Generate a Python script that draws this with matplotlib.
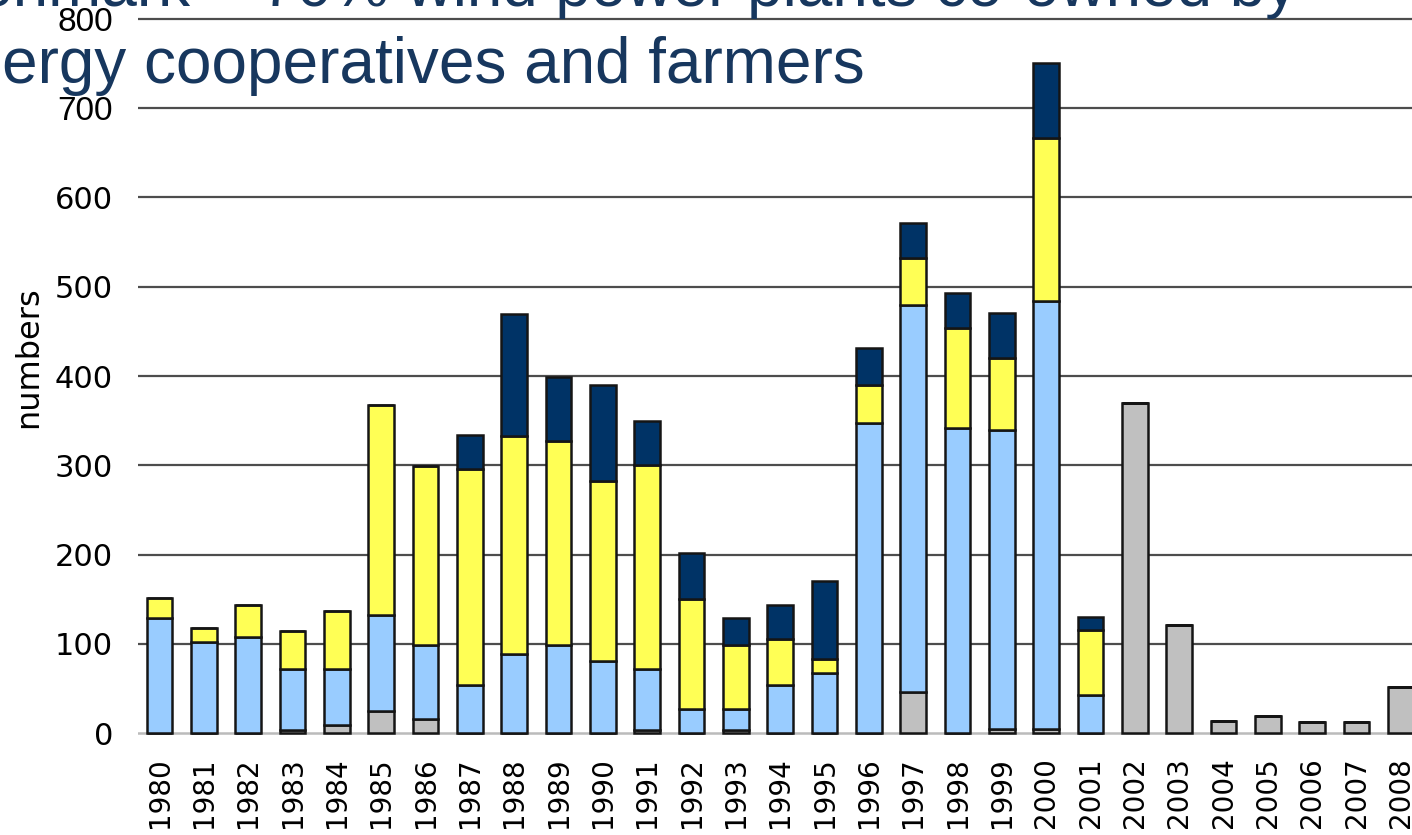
import matplotlib.pyplot as plt
import numpy as np

# wind turbines installed per year in Denmark, split by owner type
years = [str(y) for y in range(1980, 2009)]
gray = [0, 0, 0, 3, 9, 25, 16, 0, 0, 0, 0, 3, 0, 3, 0, 0, 0, 46, 0, 5, 5, 0,
        370, 121, 14, 19, 12, 12, 52]
blue = [129, 102, 108, 69, 63, 107, 83, 54, 89, 99, 81, 69, 27, 24, 54, 67,
        347, 433, 342, 334, 479, 43, 0, 0, 0, 0, 0, 0, 0]
yellow = [22, 16, 35, 42, 65, 236, 200, 242, 244, 228, 201, 228, 123, 72, 51,
          16, 43, 53, 112, 81, 183, 72, 0, 0, 0, 0, 0, 0, 0]
navy = [0, 0, 0, 0, 0, 0, 0, 38, 136, 72, 108, 50, 52, 30, 38, 87, 41, 39, 39,
        51, 84, 15, 0, 0, 0, 0, 0, 0, 0]

title_1 = "Denmark \u2013 70% wind power plants co-owned by"
title_2 = "energy cooperatives and farmers"

fig = plt.figure(figsize=(14.12, 8.35), dpi=100)
ax = fig.add_axes([138 / 1412, 0.12, 1 - 138 / 1412, 0.8594])

x = np.arange(len(years))
w = 0.58
edge = dict(edgecolor="#151515", linewidth=1.8, zorder=3)

bottom = np.zeros(len(years))
for vals, col in [(gray, "#c0c0c0"), (blue, "#99ccff"),
                  (yellow, "#ffff55"), (navy, "#003366")]:
    vals = np.array(vals)
    ax.bar(x, vals, w, bottom=bottom, color=col, **edge)
    bottom = bottom + vals

ax.set_xlim(-0.485, 28.25)
ax.set_ylim(-2, 802)
ax.set_yticks(range(0, 801, 100))
for v in range(100, 801, 100):
    ax.axhline(v, color="#4d4d4d", linewidth=1.6, zorder=1)
ax.axhline(0, color="#bbbbbb", linewidth=1.8, zorder=2)

for s in ax.spines.values():
    s.set_visible(False)

ax.set_xticks(x)
ax.set_xticklabels(years, rotation=90, fontsize=20)
ax.tick_params(axis="x", length=0, pad=16)
ax.tick_params(axis="y", length=0, pad=18, labelsize=22)
for lab in ax.get_yticklabels()[-2:]:
    lab.set_fontfamily("Liberation Sans")
    lab.set_fontsize(24)

ax.set_ylabel("numbers", fontsize=23)
ax.yaxis.set_label_coords(-0.074, 0.526)

# title lines run off the left edge of the slide crop
fig.text(-69 / 1412, 1 - 6 / 835, title_1, fontsize=46, family="Liberation Sans",
         color="#17375e", va="baseline", ha="left", zorder=10)
fig.text(-69 / 1412, 1 - 83 / 835, title_2, fontsize=46, family="Liberation Sans",
         color="#17375e", va="baseline", ha="left", zorder=10)

fig.savefig("out.png", dpi=100)
